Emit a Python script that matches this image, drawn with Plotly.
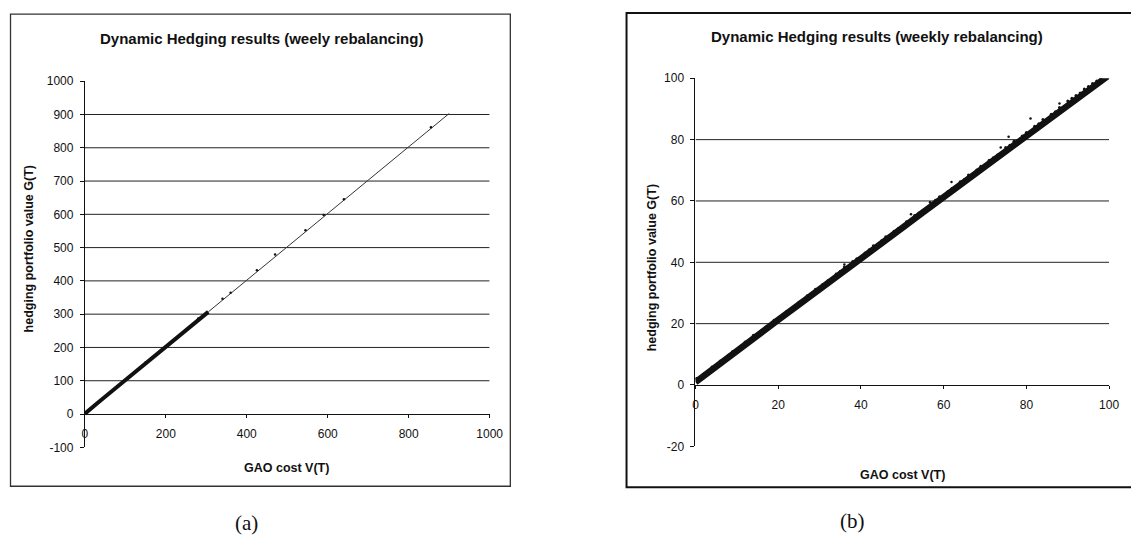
import plotly.graph_objects as go

# page is 1139x547; the html body has an 8px margin, so the figure is drawn 8px in
PAGE_W, PAGE_H = 1139, 547
OFF = 8
W, H = PAGE_W - 2 * OFF, PAGE_H - 2 * OFF

# ---------------- data ----------------
# panel (a): dense part of the cloud (0..300) and sparse tail (300..900)
a_band_v = [0, 8, 20, 35, 50, 65, 80, 95, 110, 125, 140, 155, 170, 185, 200, 215, 230, 245, 260, 275, 290, 305]
a_band_g = [1, 10, 22, 37, 52, 67, 82, 97, 112, 127, 143, 157, 172, 187, 203, 217, 232, 248, 262, 277, 293, 307]
a_tail_v = [305, 330, 360, 390, 420, 450, 480, 510, 540, 570, 600, 640, 680, 720, 760, 800, 840, 870, 900]
a_tail_g = [307, 332, 362, 391, 421, 451, 481, 511, 541, 571, 601, 641, 681, 721, 761, 801, 841, 871, 903]
a_spec_v = [150, 280, 340, 360, 425, 470, 545, 590, 640, 855]
a_spec_g = [155, 287, 346, 364, 432, 479, 552, 598, 645, 862]

# panel (b): band of points and the fuzz above it
b_band_v = [0, 5, 10, 15, 20, 25, 30, 35, 40, 45, 50, 55, 60, 65, 70, 75, 80, 85, 90, 95, 100]
b_band_g = [0.9, 6.1, 11.2, 16.1, 21.2, 26.2, 31.1, 36.3, 41.2, 46.3, 51.2, 56.3, 61.3, 66.2, 71.3, 76.3, 81.2, 86.3, 91.3, 96.4, 101.0]
b_fuzz_v = [2, 4, 6, 8, 9, 11, 12, 14, 16, 17, 19, 21, 22, 24, 25, 27, 28, 29, 31, 32, 34, 35, 36, 38, 39, 41, 42, 43,
            45, 46, 48, 49, 51, 53, 54, 55, 57, 58, 59, 61, 62, 64, 65, 66, 68, 69, 71, 72, 73, 75, 76, 77, 79, 80,
            82, 83, 84, 86, 87, 88, 90, 91, 92, 93, 94, 95, 96, 97, 98, 99]
b_fuzz_g = [3.6, 5.9, 7.8, 9.7, 10.9, 12.6, 14.0, 16.2, 17.8, 18.9, 21.1, 22.7, 24.0, 25.6, 27.0, 29.1, 29.9, 31.2, 32.8, 34.0, 36.2, 37.1,
            38.5, 40.3, 41.2, 43.0, 44.1, 45.4, 47.0, 48.3, 50.1, 51.0, 53.2, 55.3, 56.1, 57.0, 59.2, 60.2, 61.4, 63.0, 64.1, 66.3, 67.0,
            68.5, 70.1, 71.3, 73.3, 74.1, 75.0, 77.4, 78.2, 79.5, 81.2, 82.3, 84.4, 85.2, 86.6, 88.3, 89.1, 90.5, 92.6, 93.5, 94.4,
            95.2, 96.5, 97.3, 98.3, 99.1, 100.2, 101.1]
b_out_v = [0.2, 30.7, 36.0, 52.1, 56.7, 61.9, 73.8, 75.7, 81.0, 88.0]
b_out_g = [2.2, 32.8, 39.3, 55.7, 59.6, 66.2, 77.4, 80.9, 86.9, 91.8]

# axes / ticks
a_xticks = [0, 200, 400, 600, 800, 1000]
a_yticks = [-100, 0, 100, 200, 300, 400, 500, 600, 700, 800, 900, 1000]
a_grid = [100, 200, 300, 400, 500, 600, 700, 800, 900]
a_xrange, a_yrange = [0, 1000], [-100, 1000]

b_xticks = [0, 20, 40, 60, 80, 100]
b_yticks = [-20, 0, 20, 40, 60, 80, 100]
b_grid = [20, 40, 60, 80]
b_xrange, b_yrange = [0, 100], [-20, 100]

title_a = "Dynamic Hedging results (weely rebalancing)"
title_b = "Dynamic Hedging results (weekly rebalancing)"
xtitle = "GAO cost V(T)"
ytitle = "hedging portfolio value G(T)"

# ---------------- layout helpers (page pixel -> paper) ----------------
def px(x):
    return (x - OFF) / W

def py(y):
    return 1 - (y - OFF) / H

FONT = "Liberation Sans, Arial, sans-serif"
INK = "#111111"

a_xdom = [px(83), px(494)]
a_ydom = [py(452), py(76)]
b_xdom = [px(703), px(1123)]
b_ydom = [py(451), py(73)]

def zero_pos(ydom, yr):
    return ydom[0] + (0 - yr[0]) / (yr[1] - yr[0]) * (ydom[1] - ydom[0])

fig = go.Figure()

fig.add_trace(go.Scatter(x=a_band_v, y=a_band_g, mode="lines", line=dict(color=INK, width=4),
                         xaxis="x", yaxis="y", hoverinfo="skip"))
fig.add_trace(go.Scatter(x=a_tail_v, y=a_tail_g, mode="lines", line=dict(color="#333333", width=1),
                         xaxis="x", yaxis="y", hoverinfo="skip"))
fig.add_trace(go.Scatter(x=a_spec_v, y=a_spec_g, mode="markers", marker=dict(color=INK, size=2.5),
                         xaxis="x", yaxis="y", hoverinfo="skip"))

fig.add_trace(go.Scatter(x=b_band_v, y=b_band_g, mode="lines", line=dict(color=INK, width=6.5),
                         xaxis="x2", yaxis="y2", hoverinfo="skip"))
fig.add_trace(go.Scatter(x=b_fuzz_v, y=b_fuzz_g, mode="markers", marker=dict(color=INK, size=3),
                         xaxis="x2", yaxis="y2", hoverinfo="skip"))
fig.add_trace(go.Scatter(x=b_out_v, y=b_out_g, mode="markers", marker=dict(color=INK, size=2.5),
                         xaxis="x2", yaxis="y2", hoverinfo="skip"))

tickfont = dict(family=FONT, size=12, color=INK)

def xax(dom, rng, ticks, ydom, yr):
    return dict(domain=dom, range=rng, tickvals=ticks, ticktext=[str(t) for t in ticks],
                anchor="free", position=zero_pos(ydom, yr),
                showline=True, linecolor=INK, linewidth=1, ticks="outside", ticklen=3,
                tickcolor=INK, showgrid=False, zeroline=False, tickfont=tickfont,
                ticklabelstandoff=6, fixedrange=True)

def yax(dom, rng, ticks, anchor_x):
    return dict(domain=dom, range=rng, tickvals=ticks, ticktext=[str(t) for t in ticks],
                anchor=anchor_x, showline=True, linecolor=INK, linewidth=1, ticks="outside",
                ticklen=4, tickcolor=INK, showgrid=False, zeroline=False, tickfont=tickfont,
                ticklabelstandoff=4, fixedrange=True)

shapes = []
for g in a_grid:
    shapes.append(dict(type="line", xref="x", yref="y", x0=a_xrange[0], x1=a_xrange[1], y0=g, y1=g,
                       line=dict(color="#222222", width=1), layer="below"))
for g in b_grid:
    shapes.append(dict(type="line", xref="x2", yref="y2", x0=b_xrange[0], x1=b_xrange[1], y0=g, y1=g,
                       line=dict(color="#222222", width=1), layer="below"))
# chart frames
shapes.append(dict(type="rect", xref="paper", yref="paper", x0=px(7.5), x1=px(515), y0=py(492), y1=py(7),
                   line=dict(color="#333333", width=1.3)))
shapes.append(dict(type="rect", xref="paper", yref="paper", x0=px(633), x1=px(1160), y0=py(493), y1=py(6),
                   line=dict(color="#111111", width=2)))

ann = []
def text(x, y, s, size, bold=True, angle=0, family=FONT):
    ann.append(dict(x=px(x), y=py(y), xref="paper", yref="paper", text=("<b>%s</b>" % s) if bold else s,
                    showarrow=False, textangle=angle, xanchor="center", yanchor="middle",
                    font=dict(family=family, size=size, color=INK)))

text(262, 32, title_a, 15)
text(887, 30, title_b, 15)
text(288, 473, xtitle, 12.5)
text(913, 480, xtitle, 12.5)
text(26, 248, ytitle, 12.5, angle=-90)
text(659, 268, ytitle, 12.5, angle=-90)
text(247, 530, "(a)", 21, bold=False, family="Liberation Serif, Times New Roman, serif")
text(862, 528, "(b)", 21, bold=False, family="Liberation Serif, Times New Roman, serif")

fig.update_layout(
    width=W, height=H, margin=dict(l=0, r=0, t=0, b=0),
    paper_bgcolor="white", plot_bgcolor="white", showlegend=False,
    xaxis=xax(a_xdom, a_xrange, a_xticks, a_ydom, a_yrange),
    yaxis=yax(a_ydom, a_yrange, a_yticks, "x"),
    xaxis2=xax(b_xdom, b_xrange, b_xticks, b_ydom, b_yrange),
    yaxis2=yax(b_ydom, b_yrange, b_yticks, "x2"),
    shapes=shapes, annotations=ann,
)

fig.write_html("out.html", config={"displayModeBar": False})
